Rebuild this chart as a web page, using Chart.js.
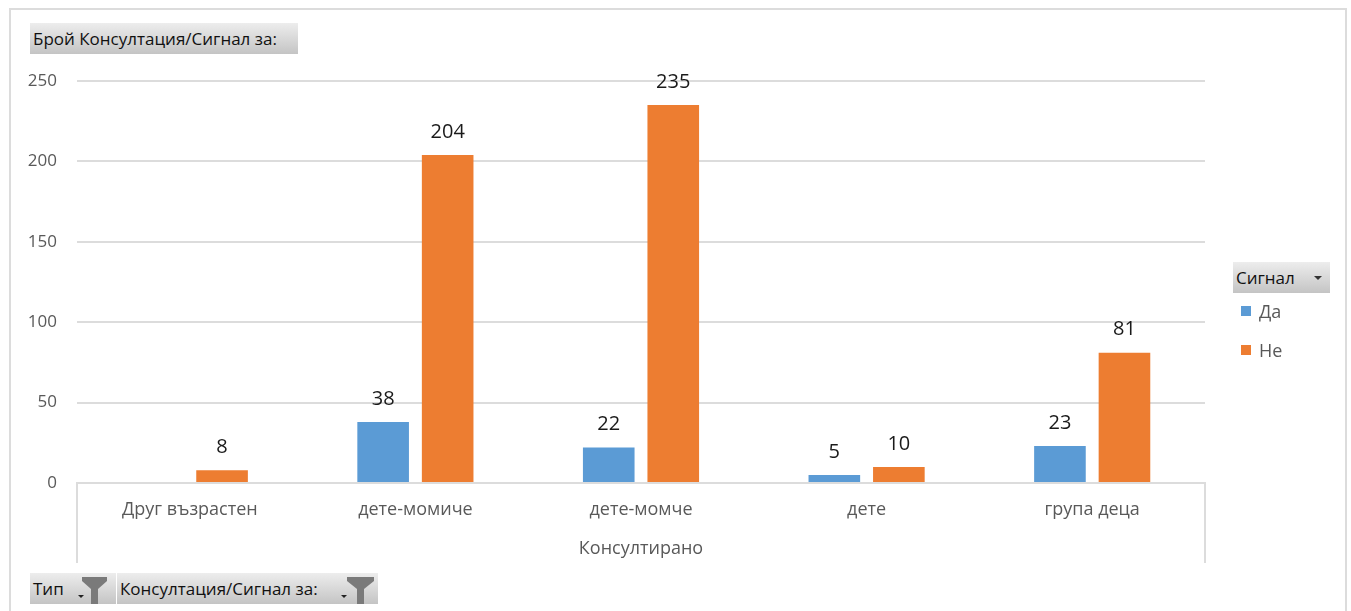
<!DOCTYPE html>
<html>
<head>
<meta charset="utf-8">
<script src="https://cdn.jsdelivr.net/npm/chart.js@4.4.0/dist/chart.umd.min.js"></script>
<style>
  body { margin: 0; background: #fff; font-family: "Open Sans", sans-serif; }
  #wrap { position: relative; width: 1351px; height: 611px; overflow: hidden; }
  #frame { position: absolute; left: 9px; top: 8px; width: 1338px; height: 640px; border: 2px solid #dcdcdc; box-sizing: border-box; }
  canvas { position: absolute; left: 0; top: 0; }
  .btn { position: absolute; height: 31px; background: linear-gradient(#ededed, #c4c4c4); font-size: 17px; line-height: 31px; padding-left: 3px; color: #111; box-sizing: border-box; white-space: nowrap; }
  .btn svg { position: absolute; top: 2px; }
  .leg { position: absolute; font-size: 18px; color: #595959; }
  .leg i { display: inline-block; width: 10px; height: 10px; margin-right: 8px; vertical-align: 2px; }
</style>
</head>
<body>
<div id="wrap">
  <div id="frame"></div>
  <canvas id="chart" width="1351" height="611"></canvas>

  <div class="btn" style="left:30px;top:23px;width:268px;">Брой Консултация/Сигнал за:</div>

  <div class="btn" style="left:1233px;top:262px;width:97px;">Сигнал
    <svg width="12" height="24" style="left:80px;"><path d="M1 12 L9 12 L5 16 Z" fill="#333"/></svg>
  </div>
  <div class="leg" style="left:1241px;top:299px;"><i style="background:#5b9bd5"></i>Да</div>
  <div class="leg" style="left:1241px;top:338px;"><i style="background:#ed7d31"></i>Не</div>

  <div class="btn" style="left:30px;top:573px;width:86px;">Тип
    <svg width="40" height="30" style="left:46px;"><path d="M2 20 L8 20 L5 23 Z" fill="#222"/><path d="M6 2 L31 2 L31 6 L22 14 L22 29 L15 29 L15 14 L6 6 Z" fill="#7a7a7a"/></svg>
  </div>
  <div class="btn" style="left:117px;top:573px;width:261px;">Консултация/Сигнал за:
    <svg width="40" height="30" style="left:222px;"><path d="M2 20 L8 20 L5 23 Z" fill="#222"/><path d="M8 2 L35 2 L35 6 L25 14 L25 29 L18 29 L18 14 L8 6 Z" fill="#7a7a7a"/></svg>
  </div>
</div>

<script>
const categories = ['Друг възрастен', 'дете-момиче', 'дете-момче', 'дете', 'група деца'];
const seriesNames = ['Да', 'Не'];
const daValues = [null, 38, 22, 5, 23];
const neValues = [8, 204, 235, 10, 81];
const yTicks = [0, 50, 100, 150, 200, 250];
const axisTitle = 'Консултирано';

const gray = '#595959';
const lineGray = '#dcdcdc';

// value labels above each bar
const valueLabels = {
  id: 'valueLabels',
  afterDatasetsDraw(chart) {
    const ctx = chart.ctx;
    ctx.save();
    ctx.font = '20px "Open Sans", sans-serif';
    ctx.fillStyle = '#1a1a1a';
    ctx.textAlign = 'center';
    ctx.textBaseline = 'middle';
    chart.data.datasets.forEach(function (ds, i) {
      chart.getDatasetMeta(i).data.forEach(function (bar, j) {
        const v = ds.data[j];
        if (v === null || v === undefined) return;
        ctx.fillText(String(v), bar.x, bar.y - 23);
      });
    });
    ctx.restore();
  }
};

// the vertical lines framing the category labels under the axis
const axisFrame = {
  id: 'axisFrame',
  afterDraw(chart) {
    const ctx = chart.ctx;
    const a = chart.chartArea;
    const xs = chart.scales.x;
    ctx.save();
    ctx.strokeStyle = lineGray;
    ctx.lineWidth = 2;
    ctx.beginPath();
    ctx.moveTo(a.left, a.bottom);
    ctx.lineTo(a.left, xs.bottom);
    ctx.moveTo(a.right, a.bottom);
    ctx.lineTo(a.right, xs.bottom);
    ctx.stroke();
    ctx.restore();
  }
};

new Chart(document.getElementById('chart').getContext('2d'), {
  type: 'bar',
  data: {
    labels: categories,
    datasets: [
      { label: seriesNames[0], data: daValues, backgroundColor: '#5b9bd5' },
      { label: seriesNames[1], data: neValues, backgroundColor: '#ed7d31' }
    ]
  },
  options: {
    responsive: false,
    animation: false,
    categoryPercentage: 0.572,
    barPercentage: 0.8,
    layout: { padding: { left: 0, top: 81, right: 146, bottom: 48 } },
    plugins: {
      legend: { display: false },
      tooltip: { enabled: false }
    },
    scales: {
      x: {
        grid: { display: false },
        border: { display: true, color: lineGray, width: 2 },
        ticks: { color: gray, font: { family: '"Open Sans", sans-serif', size: 18 }, padding: 8 },
        title: {
          display: true,
          text: axisTitle,
          color: gray,
          font: { family: '"Open Sans", sans-serif', size: 18 },
          padding: { top: 0, bottom: 3 }
        },
        afterFit(scale) { scale.height = 80; }
      },
      y: {
        min: yTicks[0],
        max: yTicks[yTicks.length - 1],
        afterBuildTicks(scale) { scale.ticks = yTicks.map(function (v) { return { value: v }; }); },
        grid: { color: lineGray, lineWidth: 2, drawTicks: false },
        border: { display: false },
        ticks: { color: gray, font: { family: '"Open Sans", sans-serif', size: 17 }, padding: 20 },
        afterFit(scale) { scale.width = 77; }
      }
    }
  },
  plugins: [valueLabels, axisFrame]
});
</script>
</body>
</html>
